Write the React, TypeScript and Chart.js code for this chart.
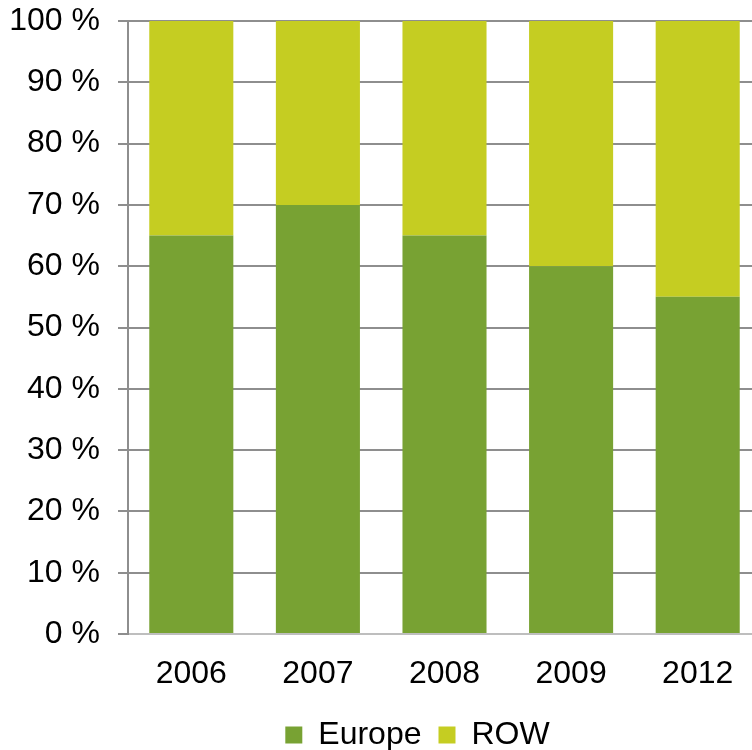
import React, { useEffect, useRef } from "react";
import { Chart, registerables } from "chart.js";

Chart.register(...registerables);

const categories = ["2006", "2007", "2008", "2009", "2012"];
const europe = [65, 70, 65, 60, 55];
const row = [35, 30, 35, 40, 45];
const seriesNames = ["Europe", "ROW"];
const seriesColors = ["#78A233", "#C5CD22"];

const legendShift = {
  id: "legendShift",
  afterLayout(chart: any) {
    const l = chart.legend;
    if (l) {
      l.left += 74;
      l.width = l.right - l.left;
    }
  },
};

export default function App() {
  const ref = useRef<HTMLCanvasElement>(null);
  useEffect(() => {
    document.body.style.overflow = "hidden";
    const ctx = ref.current!;
    const font = "'Liberation Sans', Arial, sans-serif";
    const chart = new Chart(ctx, {
      type: "bar",
      data: {
        labels: categories,
        datasets: [
          { label: seriesNames[0], data: europe, backgroundColor: seriesColors[0], borderWidth: 0 },
          { label: seriesNames[1], data: row, backgroundColor: seriesColors[1], borderWidth: 0 },
        ],
      },
      plugins: [legendShift],
      options: {
        animation: false,
        responsive: false,
        maintainAspectRatio: false,
        datasets: { bar: { barPercentage: 0.664, categoryPercentage: 1 } },
        layout: { padding: { top: 21, left: 0, right: 62, bottom: -11 } },
        plugins: {
          tooltip: { enabled: false },
          legend: {
            position: "bottom",
            labels: {
              boxWidth: 17,
              boxHeight: 17,
              padding: 17,
              color: "#000",
              font: { family: font, size: 32 },
            },
          },
        },
        scales: {
          x: {
            stacked: true,
            grid: { display: false, drawTicks: false },
            border: { display: true, color: "#BEBEBE", width: 2 },
            ticks: { color: "#000", padding: 21, font: { family: font, size: 32 } },
            afterFit: (s: any) => {
              s.height = 68;
              s.paddingLeft = 0;
              s.paddingRight = 0;
            },
          },
          y: {
            stacked: true,
            min: 0,
            max: 100,
            grid: { color: "#8E8E8E", lineWidth: 2, tickLength: 10 },
            border: { display: true, color: "#8E8E8E", width: 2 },
            ticks: {
              stepSize: 10,
              color: "#000",
              padding: 18,
              font: { family: font, size: 32 },
              callback: (v: any) => v + " %",
            },
            afterFit: (s: any) => {
              s.width = 128;
              s.paddingTop = 0;
              s.paddingBottom = 0;
            },
          },
        },
      },
    });
    return () => chart.destroy();
  }, []);
  return (
    <div style={{ position: "fixed", left: 0, top: 0, width: 752, height: 750, overflow: "hidden" }}>
      <canvas ref={ref} width={823} height={750} style={{ display: "block" }} />
    </div>
  );
}
